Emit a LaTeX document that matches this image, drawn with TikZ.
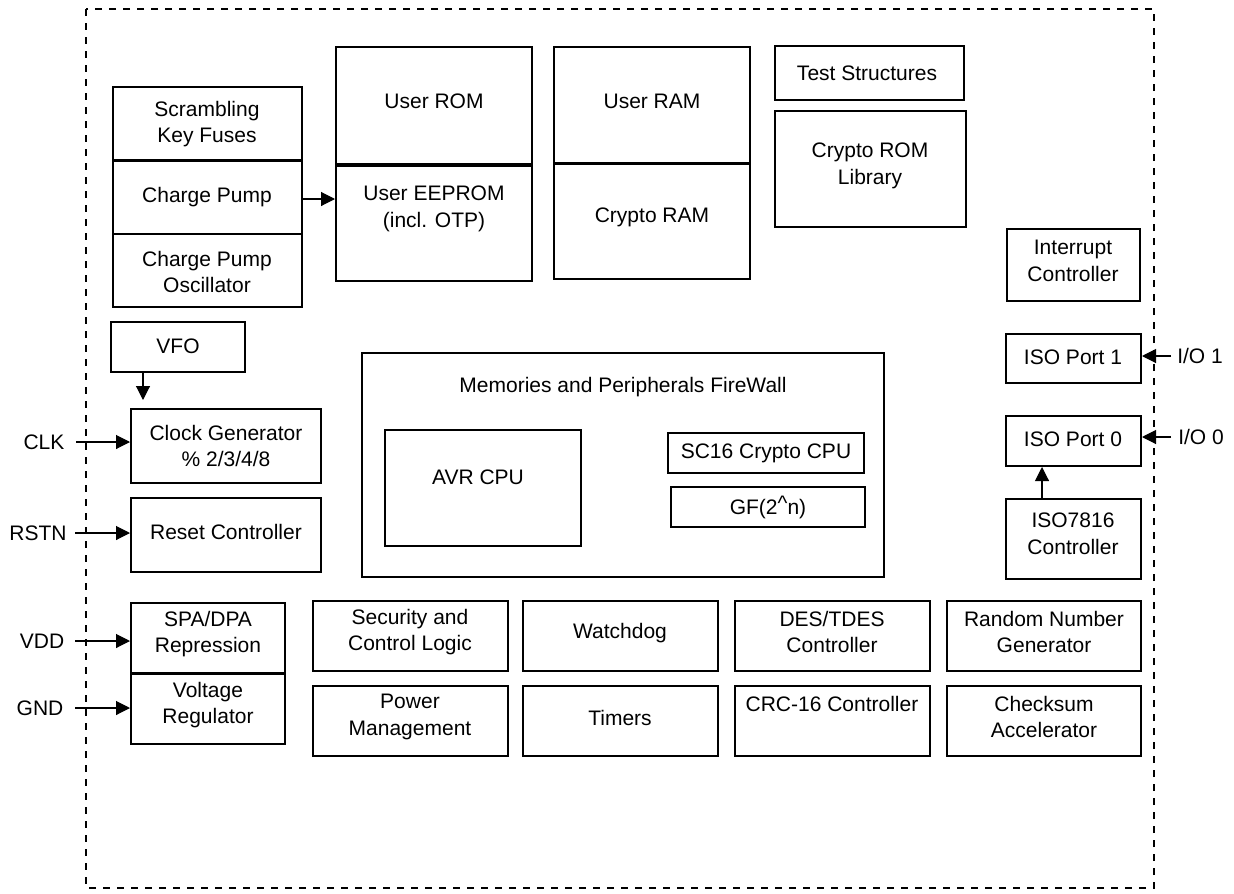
\documentclass[tikz,border=0pt]{standalone}
\usepackage{fontspec}
\setmainfont{Liberation Sans}
\usetikzlibrary{arrows.meta,fit}
\newcommand\blk[5]{\node[box, fit={(#2,#3) (#4,#5)}] (#1) {};}
\begin{document}
\begin{tikzpicture}[x=1pt,y=-1pt,
  box/.style={draw, line width=2pt, inner sep=0pt},
  txt/.style={font=\fontsize{21}{26.5}\selectfont, align=center, inner sep=0pt},
  arr/.style={-{Triangle[length=14pt,width=14pt]}, line width=1.1pt},
  border/.style={line width=2pt, dash pattern=on 7pt off 7pt},
  divline/.style={line width=3.2pt}
]
\useasboundingbox (0,0) rectangle (1234,894);
\draw[border] (86,9) rectangle (1154,888);

% blocks
\blk{skf}{113}{87}{302}{160}
\blk{cp}{113}{160}{302}{234}
\blk{cpo}{113}{234}{302}{307}
\blk{urom}{336}{47}{532}{164}
\blk{ueep}{336}{164}{532}{281}
\blk{uram}{554}{47}{750}{163}
\blk{cram}{554}{163}{750}{279}
\blk{test}{775}{46}{964}{100}
\blk{crom}{775}{111}{966}{227}
\blk{intc}{1007}{229}{1140}{301}
\blk{iso1}{1006}{334}{1141}{383}
\blk{iso0}{1006}{416}{1141}{466}
\blk{isoc}{1006}{499}{1141}{579}
\blk{vfo}{111}{322}{245}{372}
\blk{clkg}{131}{409}{321}{483}
\blk{rst}{131}{498}{321}{572}
\blk{fw}{362}{353}{884}{577}
\blk{avr}{385}{430}{581}{546}
\blk{sc16}{668}{433}{864}{473}
\blk{gf}{671}{487}{865}{527}
\blk{spa}{131}{603}{285}{673}
\blk{vreg}{131}{673}{285}{744}
\blk{sec}{313}{601}{508}{671}
\blk{wdg}{523}{601}{718}{671}
\blk{des}{735}{601}{930}{671}
\blk{rng}{947}{601}{1141}{671}
\blk{pwr}{313}{686}{508}{756}
\blk{tim}{523}{686}{718}{756}
\blk{crc}{735}{686}{930}{756}
\blk{chk}{947}{686}{1141}{756}

% thicker dividers
\draw[divline] (urom.south west) -- (urom.south east);
\draw[line width=2.6pt] (skf.south west) -- (skf.south east);
\draw[line width=2.6pt] (uram.south west) -- (uram.south east);
\draw[line width=2.6pt] (spa.south west) -- (spa.south east);

% texts
\node[txt] (t-skf) at (207,124) {Scrambling\\Key Fuses};
\node[txt] (t-cp) at (207,197) {Charge Pump};
\node[txt] (t-cpo) at (207,272) {Charge Pump\\Oscillator};
\node[txt] (t-urom) at (434,101) {User ROM};
\node[txt] (t-ueep) at (434,209) {User EEPROM\\(incl. OTP)};
\node[txt] (t-uram) at (652,101) {User RAM};
\node[txt] (t-cram) at (652,217) {Crypto RAM};
\node[txt] (t-test) at (867,73) {Test Structures};
\node[txt] (t-crom) at (870,166) {Crypto ROM\\Library};
\node[txt] (t-intc) at (1073,261) {Interrupt\\Controller};
\node[txt] (t-iso1) at (1073,357) {ISO Port 1};
\node[txt] (t-iso0) at (1073,439) {ISO Port 0};
\node[txt] (t-isoc) at (1073,534) {ISO7816\\Controller};
\node[txt] (t-vfo) at (178,346) {VFO};
\node[txt] (t-clkg) at (226,446) {Clock Generator\\\% 2/3/4/8};
\node[txt] (t-rst) at (226,532) {Reset Controller};
\node[txt] (t-fw) at (623,387) {Memories and Peripherals FireWall};
\node[txt] (t-avr) at (478,477) {AVR CPU};
\node[txt] (t-sc16) at (766,453) {SC16 Crypto CPU};
\node[txt] (t-gf) at (768,507) {GF(2\raisebox{4pt}{\char94}n)};
\node[txt] (t-spa) at (208,634) {SPA/DPA\\Repression};
\node[txt] (t-vreg) at (208,705) {Voltage\\Regulator};
\node[txt] (t-sec) at (410,632) {Security and\\Control Logic};
\node[txt] (t-wdg) at (620,633) {Watchdog};
\node[txt] (t-des) at (832,632) {DES/TDES\\Controller};
\node[txt] (t-rng) at (1044,632) {Random Number\\Generator};
\node[txt] (t-pwr) at (410,717) {Power\\Management};
\node[txt] (t-tim) at (620,718) {Timers};
\node[txt] (t-crc) at (832,704) {CRC-16 Controller};
\node[txt] (t-chk) at (1044,717) {Checksum\\Accelerator};

% external signal labels
\node[txt] (l-clk) at (44,442) {CLK};
\node[txt] (l-rst) at (38,533) {RSTN};
\node[txt] (l-vdd) at (42,641) {VDD};
\node[txt] (l-gnd) at (40,708) {GND};
\node[txt] (l-io1) at (1200,356) {I/O 1};
\node[txt] (l-io0) at (1201,437) {I/O 0};

\coordinate (clka) at (76,442);
\coordinate (rsta) at (75,533);
\coordinate (vdda) at (75,641);
\coordinate (gnda) at (75,708);
\coordinate (io1a) at (1171,356);
\coordinate (io0a) at (1171,437);
\coordinate (vfox) at (143,0);
\coordinate (isox) at (1042,0);

% connectors
\draw[arr] (cp.east |- 0,199) -- (ueep.west |- 0,199);
\draw[arr, shorten >=8pt] (vfox |- vfo.south) -- (vfox |- clkg.north);
\draw[arr] (clka) -- (clka -| clkg.west);
\draw[arr] (rsta) -- (rsta -| rst.west);
\draw[arr] (vdda) -- (vdda -| spa.west);
\draw[arr] (gnda) -- (gnda -| vreg.west);
\draw[arr] (io1a) -- (io1a -| iso1.east);
\draw[arr] (io0a) -- (io0a -| iso0.east);
\draw[arr] (isox |- isoc.north) -- (isox |- iso0.south);
\end{tikzpicture}
\end{document}
